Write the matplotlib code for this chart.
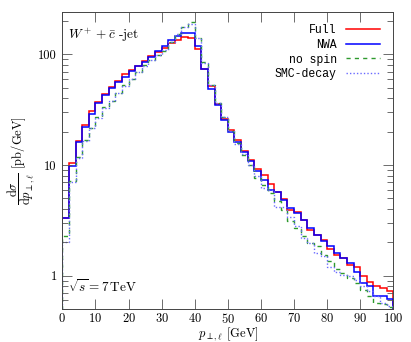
import numpy as np
import matplotlib
matplotlib.use('agg')
from matplotlib import pyplot as plt
from matplotlib.ticker import FixedLocator, LogLocator, NullFormatter

plt.rcParams['font.family'] = 'serif'
plt.rcParams['font.serif'] = ['cmr10', 'DejaVu Serif']
plt.rcParams['mathtext.fontset'] = 'cm'
plt.rcParams['axes.formatter.use_mathtext'] = True

# bin edges in p_T (GeV), 2 GeV bins
edges = np.arange(0, 102, 2)

# d sigma / d pT [pb/GeV]
full = [3.35, 10.4, 16.4, 22.9, 30.8, 37.2, 44.2, 50.8, 57.5, 66,
        71.7, 79, 87, 96, 105, 115, 126, 136, 143, 142,
        112, 74, 51.5, 35.4, 25.8, 20.7, 16.8, 13.3, 11.1, 9.2,
        8.2, 6.8, 5.75, 4.9, 3.95, 3.8, 3.2, 2.6, 2.34, 2.1,
        1.74, 1.55, 1.45, 1.25, 1.2, 1.0, 0.88, 0.8, 0.78, 0.72]
nwa = [3.3, 9.7, 16.2, 22.2, 29.2, 36.0, 42.7, 50, 56, 63,
       71, 78, 86, 95, 107, 120, 134, 148, 157, 157,
       120, 74, 49, 35, 25.4, 20, 16.2, 13, 10.9, 8.8,
       7.3, 6.0, 5.75, 4.8, 4.1, 3.7, 3.2, 2.7, 2.34, 2.04,
       1.85, 1.6, 1.44, 1.3, 1.09, 0.85, 0.80, 0.66, 0.65, 0.62]
nospin = [2.3, 7.2, 11.9, 16.8, 21.5, 27.3, 33.2, 38, 45, 52.7,
          60, 69, 80, 89.5, 98, 108, 129, 154, 178, 195,
          140, 85, 53, 36, 27, 20.5, 15.8, 12.3, 10, 7.6,
          6.6, 5.6, 4.7, 3.9, 3.1, 2.7, 2.29, 1.97, 1.84, 1.55,
          1.35, 1.15, 1.05, 0.95, 0.85, 0.74, 0.66, 0.57, 0.55, 0.52]
smc = [2.0, 7.0, 11.5, 16.5, 21.5, 26.4, 32.5, 38, 44.5, 52,
       60, 69, 79, 89, 98, 110, 130, 152, 175, 190,
       140, 84, 53, 36, 27, 20.5, 15.5, 12.5, 10, 7.9,
       6.2, 6.0, 4.2, 4.2, 3.4, 2.8, 2.2, 1.97, 1.6, 1.5,
       1.21, 1.09, 1.02, 0.99, 0.92, 0.80, 0.72, 0.65, 0.57, 0.53]

fig = plt.figure(figsize=(4.11, 3.42), dpi=100)
ax = fig.add_axes([0.1516, 0.0965, 0.8054, 0.8693])

ax.stairs(full, edges, color='#ff0000', lw=1.1, label='Full')
ax.stairs(nwa, edges, color='#0000ff', lw=1.1, label='NWA')
ax.stairs(nospin, edges, color='#2e9a2e', lw=1.0, ls=(0, (3, 3)), label='no spin')
ax.stairs(smc, edges, color='#6a6aff', lw=1.0, ls=(0, (1, 1.5)), label='SMC-decay')

ax.set_yscale('log')
ax.set_xlim(0, 100)
ax.set_ylim(0.5, 243)

ax.set_xticks(np.arange(0, 101, 10))
ax.yaxis.set_major_locator(FixedLocator([1, 10, 100]))
ax.set_yticklabels(['1', '10', '100'])
ax.yaxis.set_minor_locator(LogLocator(base=10, subs=np.arange(2, 10)))
ax.yaxis.set_minor_formatter(NullFormatter())
ax.tick_params(axis='both', which='both', direction='in', top=True, right=True,
               labelsize=9, width=0.6, color='#555555')
ax.tick_params(axis='x', which='major', length=7.5, pad=2)
ax.tick_params(axis='y', which='major', length=7.5, pad=4)
ax.tick_params(axis='y', which='minor', length=4)
for s in ax.spines.values():
    s.set_linewidth(0.7)
    s.set_color('#444444')

ax.set_xlabel(r'$p_{\perp,\ell}$ [GeV]', fontsize=9, labelpad=-0.3)
ax.set_ylabel(r'$\dfrac{\mathrm{d}\sigma}{\mathrm{d}p_{\perp,\ell}}$ [pb/GeV]', fontsize=9, labelpad=1)

ax.text(0.018, 0.922, r'$W^+ + \bar{c}$ -jet', transform=ax.transAxes, fontsize=9.5, va='center')
ax.text(0.018, 0.074, r'$\sqrt{s} = 7\,$TeV', transform=ax.transAxes, fontsize=9.5, va='center')

leg = ax.legend(loc='upper right', bbox_to_anchor=(0.975, 0.975), frameon=False,
                markerfirst=False, handlelength=3.0, handletextpad=0.8,
                labelspacing=0.25, borderaxespad=0.0,
                prop={'family': 'Liberation Mono', 'size': 8.3})

fig.savefig('out.png', dpi=100)
